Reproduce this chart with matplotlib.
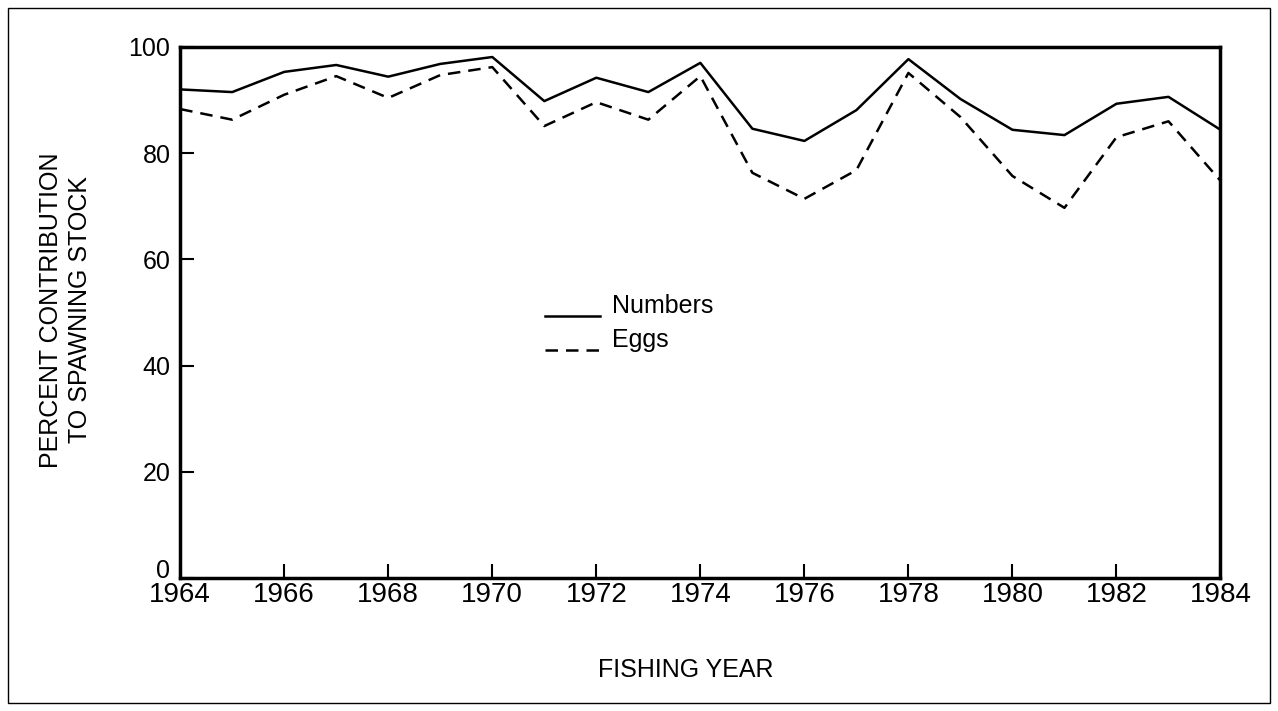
import matplotlib
matplotlib.use("Agg")
import matplotlib.pyplot as plt
import matplotlib.transforms as mtransforms
from matplotlib.patches import Rectangle
from matplotlib.legend_handler import HandlerLine2D

years = list(range(1964, 1985))
numbers = [92.0, 91.5, 95.3, 96.6, 94.4, 96.8, 98.1, 89.8, 94.2, 91.5, 97.0,
           84.6, 82.3, 88.1, 97.7, 90.2, 84.4, 83.4, 89.3, 90.6, 84.4]
eggs = [88.3, 86.3, 91.0, 94.5, 90.4, 94.7, 96.2, 85.1, 89.6, 86.3, 94.5,
        76.3, 71.4, 76.8, 95.1, 86.8, 75.7, 69.7, 83.0, 86.0, 74.8]
xticks = list(range(1964, 1985, 2))
yticks = [0, 20, 40, 60, 80, 100]

plt.rcParams['font.family'] = ['Liberation Sans', 'DejaVu Sans']


# legend line drawn at the text baseline, like an underline
class LowLine(HandlerLine2D):
    def create_artists(self, legend, orig_handle, xdescent, ydescent, width, height, fontsize, trans):
        arts = super().create_artists(legend, orig_handle, xdescent, ydescent, width, height, fontsize, trans)
        for a in arts:
            a.set_ydata([y - 0.65 * height for y in a.get_ydata()])
        return arts


fig = plt.figure(figsize=(12.78, 7.11), dpi=100)
ax = fig.add_axes([0.141, 0.187, 0.814, 0.747])

ax.plot(years, numbers, color='black', lw=1.8, label='Numbers')
ax.plot(years, eggs, color='black', lw=1.8, dashes=(5, 3.2), label='Eggs')

ax.set_xlim(1964, 1984)
ax.set_ylim(0, 100)
ax.set_xticks(xticks)
ax.set_yticks(yticks)
ax.tick_params(direction='in', length=10, width=1.5, pad=7)
ax.tick_params(axis='x', labelsize=20, pad=3)
ax.tick_params(axis='y', labelsize=18)
for s in ax.spines.values():
    s.set_linewidth(2.5)

# lift the "0" label a bit so it clears "1964"
lab0 = ax.yaxis.get_major_ticks()[0].label1
lab0.set_transform(lab0.get_transform() + mtransforms.ScaledTranslation(0, 7 / 72, fig.dpi_scale_trans))

ax.set_ylabel("PERCENT CONTRIBUTION\nTO SPAWNING STOCK", fontsize=18, linespacing=1.25)
ax.yaxis.set_label_coords(-0.085, 0.505)
ax.set_xlabel("FISHING YEAR", fontsize=18)
ax.xaxis.set_label_coords(0.486, -0.15)

leg = ax.legend(loc='upper left', bbox_to_anchor=(0.351, 0.534), frameon=False,
                fontsize=18, handlelength=2.2, handletextpad=0.45, labelspacing=0.4,
                borderpad=0, borderaxespad=0,
                handler_map={matplotlib.lines.Line2D: LowLine()})

fig.patches.append(Rectangle((0.006, 0.011), 0.988, 0.978, transform=fig.transFigure,
                             fill=False, edgecolor='black', lw=1.0))

fig.savefig("out.png", dpi=100)
